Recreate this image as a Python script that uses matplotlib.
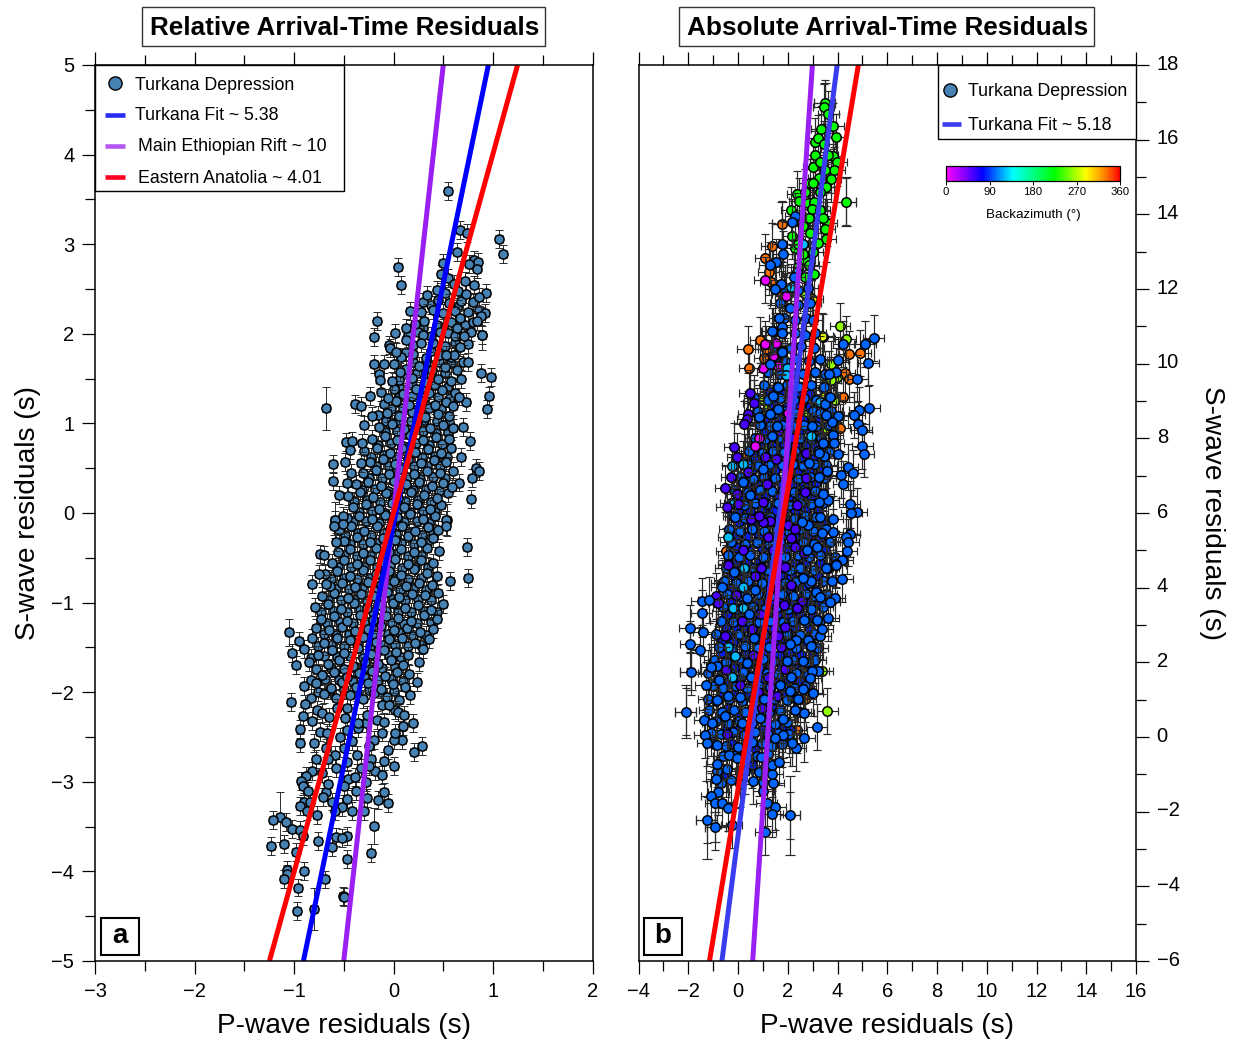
import numpy as np
import matplotlib
matplotlib.use('Agg')
import matplotlib.pyplot as plt
from matplotlib.colors import LinearSegmentedColormap, Normalize
from matplotlib.cm import ScalarMappable
from matplotlib.lines import Line2D
from matplotlib.patches import Rectangle
from matplotlib.ticker import MultipleLocator
from matplotlib.transforms import ScaledTranslation

plt.rcParams['font.family'] = ['Liberation Sans', 'DejaVu Sans']

# panel a, (P residual, S residual)
rel_top = [
    (0.545, 3.59), (0.67, 3.16), (0.735, 3.13), (1.06, 3.06), (1.10, 2.89), (0.045, 2.75), (0.08, 2.54),
    (0.64, 2.91), (0.81, 2.82), (0.85, 2.80), (0.50, 2.79), (0.76, 2.78), (0.835, 2.72), (0.48, 2.67),
    (0.55, 2.62), (0.72, 2.59), (0.61, 2.56), (0.81, 2.54), (0.44, 2.49), (0.65, 2.48), (0.93, 2.46),
    (0.73, 2.44), (0.86, 2.41), (0.34, 2.43), (-0.166, 2.14), (0.02, 2.01), (-0.195, 1.96), (0.126, 2.07),
    (0.166, 2.25), (0.13, 1.93), (0.88, 2.20), (0.84, 2.14), (0.885, 1.99), (0.67, 2.18), (0.635, 2.06),
    (0.71, 1.97), (0.30, 1.99), (0.47, 2.02), (0.28, 1.90), (0.67, 1.85), (-0.035, 1.84), (0.03, 1.80),
    (-0.195, 1.66), (-0.10, 1.66), (0.0, 1.66), (-0.15, 1.55), (0.065, 1.57), (-0.14, 1.48), (-0.02, 1.47),
    (0.695, 1.68), (0.75, 1.69), (0.61, 1.76), (0.53, 1.76), (0.875, 1.56), (0.98, 1.52), (0.96, 1.31),
    (0.94, 1.16), (-0.39, 1.22), (-0.33, 1.19), (-0.24, 1.31), (-0.06, 1.28), (0.725, 1.24),
    (0.66, 1.30), (0.595, 1.19), (-0.22, 1.08), (-0.30, 0.98), (0.695, 0.96), (0.77, 0.80), (-0.48, 0.79),
    (-0.42, 0.80), (-0.44, 0.70), (-0.32, 0.78), (-0.605, 0.55), (-0.49, 0.57), (-0.33, 0.56), (-0.43, 0.45),
    (-0.61, 0.36), (-0.47, 0.33), (-0.55, 0.20), (0.83, 0.50), (0.86, 0.47), (0.785, 0.39), (0.675, 0.62),
    (0.66, 0.34), (0.585, 0.29), (0.78, 0.16), (0.525, -0.08), (0.525, -0.14), (0.735, -0.38), (0.75, -0.73),
    (0.57, -0.76), (-0.59, -0.08), (-0.60, -0.14), (-0.505, -0.03), (-0.51, -0.12), (-0.58, -0.32),
    (-0.74, -0.46), (-0.70, -0.47), (-0.75, -0.68), (-0.82, -0.79), (-0.68, -0.79),
]
rel_bottom = [
    (-1.03, -2.11), (-0.94, -2.41), (-0.935, -2.57), (-0.80, -2.57), (-0.91, -2.27), (-0.82, -2.32),
    (-0.74, -2.44), (-0.89, -2.13), (-0.77, -2.20), (-0.72, -2.23), (-0.645, -2.28), (-0.665, -2.46),
    (-0.82, -2.88), (-0.88, -2.94), (-0.93, -2.99), (-0.91, -3.05), (-0.86, -3.10), (-0.675, -3.11),
    (-0.655, -3.03), (-0.71, -3.17), (-0.90, -3.22), (-0.94, -3.27), (-0.84, -3.22), (-0.87, -3.33),
    (-0.77, -3.37), (-1.21, -3.43), (-1.08, -3.45), (-1.02, -3.53), (-0.94, -3.54), (-0.91, -3.60),
    (-1.23, -3.72), (-1.10, -3.69), (-0.98, -3.78), (-0.76, -3.66), (-0.615, -3.73), (-0.58, -3.62),
    (-0.47, -3.60), (-0.52, -3.63), (-0.23, -3.79), (-0.465, -3.86), (-1.07, -3.98), (-1.07, -4.03),
    (-0.90, -4.0), (-1.10, -4.08), (-0.69, -4.09), (-0.96, -4.18), (-0.51, -4.27), (-0.50, -4.29),
    (-0.97, -4.44), (0.20, -2.34), (0.29, -2.60), (0.21, -2.67), (0.09, -2.53), (-0.06, -2.64),
    (0.005, -2.82), (-0.10, -2.77), (-0.19, -2.88), (0.01, -2.53), (0.015, -2.45), (-0.12, -2.45),
    (-0.20, -2.53), (-0.23, -2.75), (-0.10, -3.11), (-0.16, -3.20), (-0.06, -3.24), (-0.38, -3.10),
    (-0.27, -3.18), (-0.30, -3.33), (-0.42, -3.33), (-0.465, -3.19), (-0.52, -3.28), (-0.62, -3.22),
    (-0.59, -3.33), (-0.455, -2.97), (-0.39, -2.95), (-0.33, -2.85), (-0.58, -2.85), (-0.59, -2.70),
    (-0.37, -2.70), (-0.54, -2.50), (-0.36, -2.40), (-0.47, -2.42), (-0.28, -2.34), (-0.17, -2.31),
    (-0.36, -2.34), (-0.27, -2.25), (-0.485, -2.29), (-0.57, -2.18), (-0.465, -2.18), (-0.12, -2.14),
    (0.015, -2.20), (0.05, -2.22), (0.105, -2.25), (-0.05, -2.14),
    (-0.68, -2.62), (-0.5, -2.62), (-0.25, -2.6), (-0.42, -2.55), (-0.66, -2.75), (-0.47, -2.78), (-0.25, -2.82),
    (-0.12, -2.92), (-0.5, -3.05), (-0.28, -3.0), (-0.78, -2.75), (-0.72, -2.9), (-0.1, -2.33), (0.1, -2.38),
]
rel_core = [
    (-0.83, -2.06), (-0.7, -2.02), (-0.58, -2.07), (-0.44, -2.03), (-0.31, -2.08), (-0.2, -2.01), (-0.07, -2.05), (0.06, -2.09), (0.17, -2.03),
    (-0.9, -1.93), (-0.78, -1.9), (-0.63, -1.95), (-0.52, -1.89), (-0.38, -1.94), (-0.26, -1.9), (-0.13, -1.96), (-0.01, -1.91), (0.12, -1.94), (0.24, -1.89),
    (-0.72, -1.81), (-0.6, -1.77), (-0.47, -1.83), (-0.35, -1.79), (-0.22, -1.76), (-0.09, -1.82), (0.04, -1.78), (0.16, -1.8),
    (-0.98, -1.7), (-0.85, -1.66), (-0.66, -1.69), (-0.55, -1.64), (-0.41, -1.71), (-0.29, -1.66), (-0.16, -1.68), (-0.03, -1.64), (0.1, -1.7), (0.26, -1.66),
    (-1.02, -1.56), (-0.9, -1.52), (-0.76, -1.58), (-0.62, -1.53), (-0.5, -1.56), (-0.36, -1.51), (-0.23, -1.57), (-0.1, -1.53), (0.03, -1.55), (0.15, -1.59), (0.3, -1.52),
    (-0.95, -1.43), (-0.82, -1.4), (-0.7, -1.45), (-0.57, -1.39), (-0.44, -1.42), (-0.31, -1.38), (-0.18, -1.44), (-0.05, -1.41), (0.09, -1.39), (0.22, -1.45), (0.36, -1.41),
    (-0.78, -1.28), (-0.65, -1.31), (-0.52, -1.27), (-0.39, -1.32), (-0.26, -1.29), (-0.13, -1.26), (0.0, -1.31), (0.14, -1.28), (0.27, -1.33), (0.4, -1.29),
    (-0.73, -1.18), (-0.6, -1.15), (-0.47, -1.2), (-0.34, -1.14), (-0.21, -1.19), (-0.08, -1.15), (0.05, -1.17), (0.18, -1.21), (0.31, -1.14), (0.44, -1.18),
    (-0.79, -1.05), (-0.66, -1.02), (-0.53, -1.07), (-0.4, -1.01), (-0.27, -1.06), (-0.14, -1.03), (-0.01, -1.0), (0.12, -1.06), (0.25, -1.03), (0.38, -1.08), (0.5, -1.02),
    (-0.72, -0.93), (-0.6, -0.89), (-0.46, -0.95), (-0.33, -0.9), (-0.2, -0.93), (-0.07, -0.88), (0.06, -0.94), (0.19, -0.9), (0.32, -0.92), (0.45, -0.89),
    (-0.64, -0.81), (-0.52, -0.78), (-0.39, -0.83), (-0.26, -0.77), (-0.13, -0.8), (0.0, -0.76), (0.13, -0.82), (0.26, -0.78), (0.39, -0.8),
    (-0.69, -0.68), (-0.57, -0.65), (-0.44, -0.7), (-0.31, -0.64), (-0.18, -0.68), (-0.05, -0.65), (0.08, -0.69), (0.21, -0.63), (0.34, -0.67), (0.44, -0.7),
    (-0.62, -0.56), (-0.5, -0.52), (-0.37, -0.57), (-0.24, -0.53), (-0.11, -0.55), (0.02, -0.51), (0.15, -0.57), (0.28, -0.53), (0.4, -0.56),
    (-0.56, -0.43), (-0.44, -0.4), (-0.31, -0.45), (-0.18, -0.39), (-0.05, -0.43), (0.08, -0.4), (0.21, -0.44), (0.34, -0.39), (0.46, -0.42),
    (-0.5, -0.31), (-0.37, -0.27), (-0.24, -0.32), (-0.11, -0.28), (0.02, -0.3), (0.15, -0.26), (0.28, -0.32), (0.4, -0.28),
    (-0.55, -0.19), (-0.43, -0.15), (-0.3, -0.2), (-0.17, -0.14), (-0.04, -0.18), (0.09, -0.15), (0.22, -0.2), (0.35, -0.16), (0.45, -0.19),
    (-0.47, -0.06), (-0.35, -0.03), (-0.22, -0.07), (-0.09, -0.02), (0.04, -0.05), (0.17, -0.01), (0.3, -0.07), (0.42, -0.03),
    (-0.41, 0.07), (-0.28, 0.1), (-0.15, 0.05), (-0.02, 0.11), (0.11, 0.07), (0.24, 0.1), (0.37, 0.05), (0.48, 0.09),
    (-0.46, 0.19), (-0.34, 0.23), (-0.21, 0.18), (-0.08, 0.22), (0.05, 0.17), (0.18, 0.23), (0.31, 0.2), (0.44, 0.17), (0.55, 0.22),
    (-0.38, 0.32), (-0.26, 0.35), (-0.13, 0.3), (0.0, 0.36), (0.13, 0.32), (0.26, 0.35), (0.39, 0.3), (0.5, 0.34),
    (-0.31, 0.45), (-0.18, 0.48), (-0.05, 0.43), (0.08, 0.49), (0.21, 0.44), (0.34, 0.47), (0.47, 0.45), (0.6, 0.47),
    (-0.24, 0.57), (-0.11, 0.6), (0.02, 0.55), (0.15, 0.6), (0.28, 0.56), (0.41, 0.59), (0.53, 0.57),
    (-0.3, 0.69), (-0.17, 0.72), (-0.04, 0.67), (0.09, 0.73), (0.22, 0.68), (0.35, 0.71), (0.48, 0.67), (0.58, 0.72),
    (-0.22, 0.83), (-0.09, 0.86), (0.04, 0.81), (0.17, 0.87), (0.3, 0.82), (0.43, 0.85), (0.56, 0.83),
    (-0.15, 0.96), (-0.02, 0.99), (0.11, 0.94), (0.24, 1.0), (0.37, 0.95), (0.5, 0.98), (0.6, 0.95),
    (-0.16, 1.09), (-0.07, 1.12), (0.06, 1.08), (0.19, 1.13), (0.32, 1.07), (0.45, 1.11), (0.56, 1.08),
    (-0.1, 1.22), (0.03, 1.25), (0.16, 1.2), (0.29, 1.25), (0.42, 1.21), (0.53, 1.24),
    (-0.13, 1.35), (0.0, 1.38), (0.1, 1.33), (0.23, 1.38), (0.36, 1.34), (0.49, 1.37), (0.62, 1.34),
    (0.06, 1.48), (0.19, 1.51), (0.32, 1.46), (0.45, 1.5), (0.58, 1.47), (0.68, 1.5),
    (0.13, 1.61), (0.26, 1.64), (0.39, 1.6), (0.52, 1.63), (0.64, 1.6),
    (0.08, 1.74), (0.2, 1.77), (0.33, 1.73), (0.46, 1.76), (0.58, 1.74),
    (0.2, 1.87), (0.4, 1.9), (0.52, 1.86), (0.75, 1.89), (-0.05, 1.88),
    (0.15, 1.99), (0.25, 2.02), (0.38, 1.98), (0.55, 2.01), (0.62, 1.98), (0.78, 2.02),
    (0.22, 2.11), (0.31, 2.14), (0.44, 2.1), (0.58, 2.13), (0.72, 2.1), (0.8, 2.13),
    (0.28, 2.24), (0.4, 2.27), (0.5, 2.23), (0.62, 2.26), (0.75, 2.24), (0.86, 2.27), (0.92, 2.23),
    (0.3, 2.35), (0.45, 2.38), (0.56, 2.34), (0.68, 2.37), (0.8, 2.35),
]
rel_fill = [
    (-0.76, -2.0), (-0.64, -1.98), (-0.5, -1.97), (-0.37, -2.0), (-0.25, -1.98), (-0.13, -2.0), (0.0, -1.99),
    (-0.83, -1.86), (-0.69, -1.85), (-0.55, -1.86), (-0.41, -1.87), (-0.29, -1.84), (-0.16, -1.86), (-0.03, -1.85), (0.1, -1.87),
    (-0.78, -1.74), (-0.63, -1.73), (-0.5, -1.74), (-0.38, -1.72), (-0.25, -1.74), (-0.12, -1.73), (0.02, -1.72),
    (-0.83, -1.62), (-0.7, -1.6), (-0.57, -1.61), (-0.44, -1.6), (-0.31, -1.62), (-0.19, -1.6), (-0.05, -1.59), (0.08, -1.61),
    (-0.76, -1.48), (-0.63, -1.47), (-0.5, -1.48), (-0.37, -1.46), (-0.24, -1.48), (-0.11, -1.47), (0.02, -1.47), (0.15, -1.48), (0.28, -1.47),
    (-0.7, -1.35), (-0.58, -1.36), (-0.45, -1.35), (-0.32, -1.34), (-0.19, -1.36), (-0.06, -1.35), (0.07, -1.34), (0.2, -1.37), (0.33, -1.36),
    (-0.67, -1.23), (-0.54, -1.22), (-0.41, -1.23), (-0.28, -1.22), (-0.15, -1.22), (-0.02, -1.23), (0.11, -1.24), (0.24, -1.23), (0.38, -1.22),
    (-0.73, -1.11), (-0.6, -1.09), (-0.47, -1.1), (-0.34, -1.08), (-0.21, -1.11), (-0.08, -1.09), (0.05, -1.1), (0.18, -1.1), (0.31, -1.09), (0.44, -1.1),
    (-0.66, -0.97), (-0.53, -0.97), (-0.4, -0.96), (-0.27, -0.98), (-0.14, -0.96), (-0.01, -0.96), (0.12, -0.97), (0.25, -0.96), (0.38, -0.97),
    (-0.58, -0.85), (-0.45, -0.85), (-0.32, -0.84), (-0.19, -0.86), (-0.06, -0.84), (0.07, -0.86), (0.2, -0.84), (0.33, -0.86),
    (-0.63, -0.74), (-0.5, -0.73), (-0.37, -0.74), (-0.24, -0.73), (-0.11, -0.73), (0.02, -0.74), (0.15, -0.74), (0.28, -0.73),
    (-0.56, -0.6), (-0.43, -0.6), (-0.3, -0.6), (-0.17, -0.6), (-0.04, -0.59), (0.09, -0.61), (0.22, -0.6), (0.35, -0.6),
    (-0.5, -0.47), (-0.37, -0.48), (-0.24, -0.47), (-0.11, -0.48), (0.02, -0.46), (0.15, -0.48), (0.28, -0.47),
    (-0.44, -0.35), (-0.31, -0.35), (-0.18, -0.34), (-0.05, -0.35), (0.08, -0.34), (0.21, -0.35), (0.34, -0.34),
    (-0.49, -0.24), (-0.36, -0.22), (-0.23, -0.24), (-0.1, -0.22), (0.03, -0.23), (0.16, -0.22), (0.29, -0.24), (0.4, -0.22),
    (-0.41, -0.1), (-0.28, -0.09), (-0.15, -0.11), (-0.02, -0.09), (0.11, -0.1), (0.24, -0.09), (0.36, -0.11),
    (-0.35, 0.01), (-0.22, 0.02), (-0.09, 0.0), (0.04, 0.02), (0.17, 0.01), (0.3, 0.02), (0.42, 0.01),
    (-0.4, 0.13), (-0.27, 0.14), (-0.14, 0.12), (-0.01, 0.14), (0.12, 0.13), (0.25, 0.15), (0.38, 0.12),
    (-0.32, 0.26), (-0.19, 0.27), (-0.06, 0.25), (0.07, 0.27), (0.2, 0.26), (0.33, 0.27), (0.46, 0.25),
    (-0.25, 0.39), (-0.12, 0.39), (0.01, 0.38), (0.14, 0.4), (0.27, 0.38), (0.4, 0.4), (0.52, 0.39),
    (-0.18, 0.52), (-0.05, 0.53), (0.08, 0.51), (0.21, 0.53), (0.34, 0.52), (0.47, 0.52),
    (-0.23, 0.63), (-0.1, 0.65), (0.03, 0.62), (0.16, 0.65), (0.29, 0.63), (0.42, 0.64), (0.54, 0.63),
    (-0.16, 0.76), (-0.03, 0.78), (0.1, 0.75), (0.23, 0.78), (0.36, 0.76), (0.49, 0.77),
    (-0.09, 0.9), (0.04, 0.91), (0.17, 0.89), (0.3, 0.92), (0.43, 0.89), (0.55, 0.9),
    (-0.08, 1.03), (0.05, 1.04), (0.18, 1.03), (0.31, 1.04), (0.44, 1.03), (0.56, 1.02),
    (-0.03, 1.16), (0.1, 1.17), (0.23, 1.15), (0.36, 1.17), (0.48, 1.16),
    (0.06, 1.29), (0.19, 1.31), (0.32, 1.29), (0.45, 1.3), (0.57, 1.28),
    (0.06, 1.42), (0.19, 1.43), (0.3, 1.41), (0.42, 1.43), (0.55, 1.41),
    (0.1, 1.55), (0.24, 1.56), (0.38, 1.55), (0.52, 1.56), (0.2, 1.69), (0.33, 1.68), (0.46, 1.69), (0.58, 1.67),
    (0.13, 1.8), (0.38, 1.81), (0.62, 1.9), (0.3, 2.07), (0.5, 2.06), (0.65, 2.3), (0.38, 2.32), (0.52, 2.45),
]
# points with long S error bars: P, S, S error
rel_long_p = [-0.68, -1.14, -0.20, -0.80, 0.54, -0.59, 0.885, -1.05]
rel_long_s = [1.17, -3.39, -3.49, -4.42, -0.08, -0.08, 1.99, -1.33]
rel_long_e = [0.24, 0.28, 0.2, 0.23, 0.18, 0.2, 0.17, 0.15]
rel_perr = 0.04
rel_serr = 0.1

# slope, intercept of the fit lines
rel_fits = [(10.0, 0.0, '#9a1ff2'), (5.38, -0.13, '#0000ff'), (4.01, 0.0, '#ff0000')]
abs_fits = [(5.18, -2.65, '#3a3cf0'), (10.0, -11.9, '#9a1ff2'), (4.01, -1.4, '#ff0000')]

# panel b, one list per backazimuth colour
abs_green = [
    (3.48, 16.97), (3.45, 16.87), (3.63, 16.68), (3.34, 16.29), (3.83, 16.37), (3.93, 16.08), (3.10, 15.95),
    (3.22, 16.04), (3.46, 15.88), (3.83, 15.56), (3.98, 15.39), (3.02, 15.28), (3.87, 15.19), (3.25, 14.96),
    (3.72, 14.95), (2.88, 14.85), (3.55, 14.72), (4.33, 14.34), (2.38, 14.54), (2.81, 14.31), (3.07, 14.34),
    (2.46, 14.35), (2.97, 14.13), (2.15, 14.12), (3.29, 14.12), (2.87, 13.91), (3.57, 13.78), (3.49, 13.61),
    (2.17, 13.42), (3.52, 13.33), (3.22, 13.24), (2.30, 13.09), (2.69, 12.79), (2.84, 12.64), (2.69, 12.33),
    (3.1, 15.6), (3.5, 15.2), (3.3, 14.6), (2.7, 14.6), (3.0, 14.85), (3.4, 13.9), (2.6, 13.7), (2.9, 13.5),
    (2.4, 13.2), (2.6, 12.95), (3.0, 13.0), (2.4, 12.6), (3.05, 12.4), (3.3, 15.4), (3.6, 15.6),
]
abs_lime = [
    (2.64, 11.88), (4.10, 11.01), (4.33, 10.66), (3.74, 9.99), (3.99, 9.63), (3.73, 9.56), (1.02, 9.03), (1.19, 8.80),
    (1.11, 8.63), (3.90, 9.03), (2.83, 8.65), (3.54, 8.24), (1.15, 7.75), (0.68, 6.80), (2.49, 7.63), (3.16, 7.27),
    (3.58, 0.70), (3.39, 1.77),
]
abs_yellow = [(3.42, 10.72), (2.99, 11.73), (3.39, 10.74), (2.36, 7.87), (3.5, 7.0), (3.45, 9.1)]
abs_orange = [
    (1.77, 13.74), (1.36, 13.15), (1.10, 12.84), (1.24, 12.46), (1.31, 12.20), (1.77, 11.87), (0.90, 10.63),
    (0.39, 10.38), (1.12, 10.38), (4.47, 10.25), (4.92, 10.28), (0.46, 9.89), (1.05, 10.16), (4.30, 9.74),
    (4.48, 9.58), (4.24, 9.10), (3.41, 9.34), (2.96, 8.74), (3.12, 8.51), (4.10, 8.29), (3.30, 8.33), (3.16, 7.82),
    (0.55, 7.62), (0.28, 7.49), (0.42, 7.27), (-0.48, 4.97), (2.36, 0.18), (2.70, 1.01), (-0.66, 4.12),
]
abs_magenta = [
    (1.07, 12.24), (1.92, 11.82), (1.10, 10.52), (1.54, 10.56), (1.39, 10.21), (1.40, 10.21), (1.62, 9.95),
    (0.99, 9.88), (0.85, 8.02), (0.68, 7.79), (2.02, 8.69),
]
abs_sky = [
    (2.61, 13.20), (2.15, 12.06), (2.38, 12.46), (1.96, 9.88), (1.93, 9.70), (0.19, 7.31), (0.22, 4.52), (3.30, 8.98),
    (2.92, 8.05), (-0.24, 7.26), (-0.16, 6.26), (-0.39, 5.37), (-0.23, 1.60), (0.22, 3.45), (-0.19, 3.45), (0.22, 4.03),
    (0.24, 4.52), (-0.39, 2.42), (-0.12, 2.18),
]
abs_blue = [
    (2.30, 13.96), (2.18, 13.80), (1.77, 13.21), (1.82, 12.93), (1.54, 12.71), (1.28, 12.63), (2.26, 12.31),
    (1.73, 12.13), (1.50, 11.99), (2.08, 11.48), (1.65, 11.23), (1.77, 10.97), (1.39, 10.88), (1.77, 10.83),
    (5.46, 10.68), (5.12, 10.53), (4.24, 10.53), (1.77, 10.34), (5.24, 10.03), (4.80, 9.60), (4.0, 10.10),
    (3.93, 9.79), (3.67, 9.72), (5.28, 8.80), (4.87, 8.76), (4.68, 8.63), (4.84, 8.38), (4.97, 8.22), (5.0, 7.79),
    (5.05, 7.58), (4.41, 7.24), (4.63, 7.08), (4.14, 7.01), (4.22, 6.77), (3.50, 8.91), (3.70, 9.10), (4.0, 8.61),
    (3.79, 8.43), (3.53, 8.63), (2.96, 8.33), (3.81, 8.09), (3.86, 7.87), (3.41, 7.88), (4.0, 7.57), (3.47, 7.54),
    (3.26, 7.60), (2.86, 7.33), (3.59, 7.13), (3.26, 6.96), (4.5, 6.23), (4.77, 6.04), (4.55, 5.99), (4.50, 5.43),
    (4.34, 5.37), (4.44, 5.21), (4.37, 4.98), (4.2, 4.74), (3.93, 4.63), (3.57, 4.52), (3.81, 5.84), (3.63, 6.35),
    (3.43, 6.51), (3.26, 6.30), (3.30, 5.90), (2.83, 5.68), (2.56, 5.77), (3.81, 5.48), (3.36, 5.46), (3.16, 5.10),
    (2.76, 5.01), (1.36, 10.88), (1.76, 10.83), (1.76, 10.32), (1.29, 9.99), (1.42, 9.13), (0.85, 8.56), (1.29, 8.64),
    (1.36, 8.07), (1.62, 9.38), (1.60, 8.78), (1.58, 8.33), (0.99, 7.18), (0.22, 6.84), (0.48, 6.48), (-0.12, 5.90),
    (-2.10, 0.68), (-1.90, 1.75), (-1.93, 2.48), (-1.94, 2.91), (-1.39, 2.80), (-1.51, 2.32), (-1.46, 3.31),
    (-1.45, 3.63), (-1.17, 3.67), (-0.66, 4.01), (-1.30, 1.38), (-1.35, 0.45), (-1.04, 0.37), (-1.33, 0.05),
    (-1.23, -0.17), (-0.86, -0.22), (-0.86, -0.72), (-0.88, -1.13), (-0.79, -1.48), (-1.07, -1.59), (-0.92, -1.76),
    (-0.63, -1.76), (-0.39, -1.89), (-1.25, -2.22), (-0.92, -2.41), (-0.25, -2.36), (1.09, -2.55), (2.09, -2.10),
    (1.49, -1.88), (1.38, -2.06), (1.15, -1.76), (1.02, -1.44), (1.42, -1.22), (1.38, -0.98), (1.38, -0.76),
    (1.66, -0.67), (2.32, -0.30), (2.67, -0.04), (2.16, -0.17), (3.16, 0.26), (2.64, 0.63), (1.82, 0.05), (1.82, 0.47),
    (2.29, 0.72), (1.49, -0.02), (3.0, 1.19), (2.43, 1.01), (2.63, 1.28), (2.13, 1.60), (1.69, 1.39), (2.09, 1.24),
    (1.96, 2.03), (2.60, 2.04), (3.23, 1.78), (2.99, 1.77), (2.90, 1.57), (2.32, 2.61), (2.80, 2.60), (2.09, 2.49),
    (2.92, 2.44), (3.30, 2.70), (3.39, 2.89), (3.16, 3.13), (3.63, 3.19), (3.90, 3.73), (3.70, 3.62), (3.12, 3.89),
    (3.30, 3.76), (2.94, 4.19), (3.77, 4.19), (4.20, 4.24), (3.93, 4.62), (3.53, 4.52), (2.63, 4.25), (2.67, 3.13),
    (0.35, 1.97), (0.64, 2.66), (-0.75, 1.54), (-0.83, 1.91), (-1.07, 1.88), (-0.40, 1.10), (0.08, 1.08), (-0.83, 0.99),
    (-0.52, 0.56), (0.15, 0.37), (0.01, -0.26), (-0.36, -0.48), (-0.05, -0.57), (0.55, -0.13), (0.93, -0.53),
    (0.89, 0.50), (1.06, 1.03), (0.52, 1.61), (0.35, 3.71), (0.44, 3.29), (0.68, 3.95), (-0.16, 4.41),
]
abs_core = [
    (-0.7, -1.22), (-0.3, -1.15), (0.1, -1.25), (0.6, -1.18), (1.0, -1.2),
    (-0.85, -0.92), (-0.45, -0.85), (0.3, -0.9), (0.85, -0.95),
    (-0.6, -0.52), (-0.1, -0.47), (0.35, -0.55), (0.75, -0.5), (1.2, -0.45),
    (-0.95, -0.18), (-0.5, -0.24), (0.45, -0.2), (0.95, -0.15), (1.35, -0.23), (1.75, -0.18),
    (-1.1, 0.12), (-0.7, 0.08), (-0.2, 0.14), (0.25, 0.06), (0.7, 0.13), (1.2, 0.07), (1.6, 0.12), (2.05, 0.08),
    (-0.9, 0.42), (-0.4, 0.37), (0.05, 0.44), (0.55, 0.38), (1.05, 0.43), (1.5, 0.36), (1.95, 0.41),
    (-1.15, 0.72), (-0.65, 0.68), (-0.15, 0.73), (0.3, 0.67), (0.8, 0.72), (1.25, 0.66), (1.7, 0.71), (2.5, 0.68),
    (-1.2, 1.02), (-0.9, 0.97), (-0.35, 1.03), (0.15, 0.97), (0.6, 1.02), (1.1, 0.96), (1.5, 1.02), (1.95, 0.98), (2.35, 1.03),
    (-1.0, 1.36), (-0.6, 1.32), (-0.1, 1.37), (0.35, 1.31), (0.85, 1.36), (1.3, 1.33), (1.8, 1.37), (2.25, 1.32), (2.7, 1.36),
    (-1.2, 1.72), (-0.3, 1.68), (0.2, 1.73), (0.7, 1.67), (1.15, 1.72), (1.6, 1.68), (2.35, 1.72), (2.8, 1.67),
    (-0.95, 2.06), (-0.5, 2.02), (0.05, 2.07), (0.5, 2.02), (1.0, 2.08), (1.45, 2.03), (2.2, 2.07), (2.75, 2.02), (3.1, 2.06),
    (-0.75, 2.42), (-0.25, 2.37), (0.3, 2.43), (0.8, 2.38), (1.25, 2.42), (2.35, 2.38), (3.0, 2.43), (3.2, 2.38),
    (-0.9, 2.76), (-0.45, 2.72), (0.05, 2.77), (0.55, 2.72), (1.05, 2.77), (1.5, 2.73), (1.95, 2.77), (2.5, 2.72), (3.05, 2.77),
    (-0.7, 3.12), (-0.2, 3.07), (0.4, 3.12), (0.85, 3.07), (1.3, 3.12), (1.8, 3.08), (2.2, 3.12), (2.75, 3.07), (3.3, 3.12),
    (-0.6, 3.47), (-0.05, 3.42), (0.6, 3.47), (1.1, 3.43), (1.55, 3.47), (2.0, 3.42), (2.45, 3.47), (2.95, 3.43), (3.4, 3.47),
    (-0.45, 3.82), (0.1, 3.77), (0.8, 3.82), (1.3, 3.78), (1.75, 3.82), (2.2, 3.77), (2.75, 3.82), (3.05, 3.77), (3.55, 3.82),
    (-0.55, 4.17), (-0.1, 4.12), (0.4, 4.17), (0.95, 4.13), (1.45, 4.17), (1.9, 4.12), (2.35, 4.17), (2.85, 4.13), (3.4, 4.17),
    (-0.5, 4.52), (0.15, 4.47), (0.65, 4.52), (1.15, 4.48), (1.65, 4.52), (2.1, 4.47), (2.5, 4.52), (3.05, 4.48), (3.65, 4.52),
    (-0.4, 4.87), (0.05, 4.82), (0.5, 4.87), (1.0, 4.83), (1.45, 4.87), (1.9, 4.83), (2.4, 4.87), (2.85, 4.83), (3.3, 4.87), (3.9, 4.82),
    (-0.3, 5.22), (0.3, 5.17), (0.75, 5.22), (1.25, 5.18), (1.7, 5.22), (2.2, 5.17), (2.6, 5.22), (3.05, 5.18), (3.7, 5.22),
    (-0.35, 5.57), (0.1, 5.52), (0.55, 5.57), (1.05, 5.53), (1.55, 5.57), (2.0, 5.53), (2.5, 5.57), (3.0, 5.53), (3.55, 5.57),
    (-0.2, 5.92), (0.3, 5.87), (0.8, 5.92), (1.3, 5.88), (1.75, 5.92), (2.25, 5.87), (2.7, 5.92), (3.15, 5.88),
    (-0.3, 6.27), (0.25, 6.22), (0.7, 6.27), (1.15, 6.23), (1.6, 6.27), (2.05, 6.22), (2.5, 6.27), (2.95, 6.23), (3.4, 6.27),
    (-0.15, 6.62), (0.4, 6.57), (0.9, 6.62), (1.35, 6.58), (1.8, 6.62), (2.25, 6.57), (2.65, 6.62), (3.1, 6.58),
    (0.1, 6.97), (0.6, 6.92), (1.05, 6.97), (1.5, 6.93), (1.95, 6.97), (2.4, 6.92), (2.9, 6.97), (3.5, 6.93),
    (0.35, 7.32), (0.8, 7.27), (1.25, 7.32), (1.75, 7.28), (2.2, 7.32), (2.6, 7.27), (3.05, 7.32), (3.55, 7.28),
    (0.45, 7.67), (0.95, 7.62), (1.4, 7.67), (1.85, 7.63), (2.3, 7.67), (2.75, 7.62), (3.2, 7.67), (3.65, 7.63),
    (0.7, 8.02), (1.1, 7.97), (1.6, 8.02), (2.05, 7.98), (2.5, 8.02), (2.95, 7.97), (3.35, 8.02),
    (0.9, 8.37), (1.3, 8.32), (1.75, 8.37), (2.2, 8.33), (2.65, 8.37), (3.15, 8.32), (3.6, 8.37),
    (0.75, 8.72), (1.45, 8.67), (1.9, 8.72), (2.35, 8.68), (3.0, 8.72), (3.3, 8.67), (3.75, 8.72),
    (0.65, 9.07), (1.2, 9.02), (1.7, 9.07), (2.25, 9.03), (2.65, 9.07), (3.15, 9.02), (3.65, 9.07),
    (1.05, 9.42), (1.55, 9.37), (1.95, 9.42), (2.45, 9.38), (2.95, 9.42), (3.45, 9.37),
    (1.2, 9.77), (1.7, 9.72), (2.15, 9.77), (2.6, 9.73), (3.1, 9.77), (3.5, 9.72),
    (1.5, 10.12), (1.9, 10.07), (2.35, 10.12), (2.85, 10.08), (3.3, 10.12),
    (1.45, 10.47), (2.1, 10.42), (2.55, 10.47), (3.05, 10.43),
    (2.3, 10.82), (2.7, 10.78), (3.1, 10.82),
    (1.85, 11.22), (2.3, 11.18), (2.75, 11.22), (3.0, 11.18),
    (1.7, 11.62), (2.4, 11.58), (2.9, 11.62), (1.9, 12.02), (2.4, 11.98), (2.8, 12.02),
]
abs_dark = [
    (-0.5, -1.0), (0.1, -0.9), (0.55, -0.75), (1.05, -0.85), (-0.25, -0.2), (0.2, -0.3), (0.7, -0.3), (1.15, -0.2),
    (-0.45, 0.25), (0.0, 0.2), (0.45, 0.25), (0.95, 0.2), (1.4, 0.25), (1.75, 0.22),
    (-0.4, 0.75), (0.05, 0.55), (0.55, 0.75), (1.0, 0.6), (1.45, 0.75), (2.1, 0.2),
    (-0.65, 1.15), (-0.15, 1.15), (0.35, 1.15), (0.85, 1.15), (1.3, 1.15), (1.75, 1.15), (2.2, 1.15),
    (-0.8, 1.55), (-0.35, 1.5), (0.1, 1.55), (0.6, 1.5), (1.05, 1.55), (1.55, 1.5), (2.0, 1.55), (2.5, 1.5),
    (-0.65, 1.9), (-0.15, 1.85), (0.35, 1.9), (0.85, 1.85), (1.3, 1.9), (1.75, 1.85), (2.25, 1.9), (2.95, 1.85),
    (-0.7, 2.25), (-0.2, 2.2), (0.3, 2.25), (0.75, 2.2), (1.2, 2.25), (1.65, 2.2), (2.1, 2.25), (2.55, 2.2), (3.0, 2.2),
    (-0.65, 2.6), (-0.2, 2.55), (0.3, 2.6), (0.8, 2.55), (1.25, 2.6), (1.7, 2.55), (2.25, 2.6), (2.75, 2.55),
    (-0.5, 2.95), (-0.05, 2.9), (0.3, 2.95), (0.8, 2.9), (1.3, 2.95), (1.75, 2.9), (2.3, 2.95), (2.9, 2.9),
    (-0.45, 3.3), (0.05, 3.25), (0.6, 3.3), (1.05, 3.25), (1.55, 3.3), (2.0, 3.25), (2.5, 3.3), (3.0, 3.25),
    (-0.3, 3.65), (0.3, 3.6), (0.85, 3.65), (1.35, 3.6), (1.8, 3.65), (2.25, 3.6), (2.75, 3.65), (3.25, 3.6),
    (-0.25, 4.0), (0.25, 3.95), (0.7, 4.0), (1.2, 3.95), (1.65, 4.0), (2.1, 3.95), (2.6, 4.0), (3.15, 3.95),
    (-0.2, 4.35), (0.25, 4.3), (0.75, 4.35), (1.2, 4.3), (1.7, 4.35), (2.15, 4.3), (2.65, 4.35), (3.2, 4.3),
    (-0.1, 4.7), (0.35, 4.65), (0.85, 4.7), (1.35, 4.65), (1.8, 4.7), (2.3, 4.65), (2.75, 4.7), (3.3, 4.65),
    (-0.05, 5.05), (0.45, 5.0), (0.95, 5.05), (1.5, 5.0), (1.95, 5.05), (2.45, 5.0), (2.95, 5.05), (3.5, 5.0),
    (-0.05, 5.4), (0.35, 5.35), (0.85, 5.4), (1.35, 5.35), (1.8, 5.4), (2.3, 5.35), (2.8, 5.4), (3.3, 5.35),
    (0.05, 5.75), (0.55, 5.7), (1.05, 5.75), (1.55, 5.7), (2.0, 5.75), (2.45, 5.7), (2.95, 5.75), (3.4, 5.7),
    (0.05, 6.1), (0.5, 6.05), (0.95, 6.1), (1.4, 6.05), (1.85, 6.1), (2.3, 6.05), (2.75, 6.1), (3.2, 6.05),
    (0.15, 6.45), (0.65, 6.4), (1.1, 6.45), (1.6, 6.4), (2.05, 6.45), (2.5, 6.4), (2.95, 6.45),
    (0.35, 6.8), (0.85, 6.75), (1.3, 6.8), (1.75, 6.75), (2.2, 6.8), (2.65, 6.75), (3.15, 6.8),
    (0.55, 7.15), (1.05, 7.1), (1.5, 7.15), (2.0, 7.1), (2.4, 7.15), (2.85, 7.1), (3.35, 7.15),
    (0.7, 7.5), (1.15, 7.45), (1.65, 7.5), (2.1, 7.45), (2.55, 7.5), (3.0, 7.45),
    (0.9, 7.85), (1.35, 7.8), (1.85, 7.85), (2.3, 7.8), (2.75, 7.85), (3.15, 7.8),
    (1.1, 8.2), (1.55, 8.15), (2.0, 8.2), (2.45, 8.15), (2.9, 8.2),
    (1.2, 8.55), (1.65, 8.5), (2.1, 8.55), (2.6, 8.5), (3.25, 8.55),
    (1.45, 8.9), (1.95, 8.85), (2.5, 8.9), (2.9, 8.85), (1.3, 9.25), (1.85, 9.2), (2.4, 9.25), (2.9, 9.2),
]
abs_indigo = [
    (0.48, 9.21), (0.64, 8.94), (0.42, 8.64), (0.38, 8.51), (0.26, 8.38), (-0.16, 7.78), (-0.03, 7.51), (-0.28, 6.97),
    (-0.52, 6.66), (-0.05, 6.50), (-0.46, 6.15), (0.01, 6.23), (1.15, 6.78), (1.52, 7.45), (2.70, 6.55), (2.74, 7.60),
    (2.74, 6.95), (2.39, 6.21), (2.02, 5.68), (2.29, 5.56), (1.29, 5.79), (0.99, 5.75), (0.52, 5.83), (0.85, 5.92),
    (2.12, 5.32), (1.22, 5.37), (0.91, 4.56), (-0.39, 4.63), (1.89, 4.56), (2.67, 4.94), (1.89, 1.82), (1.73, 2.40),
    (2.56, 3.65), (2.12, 4.06), (1.85, 3.53), (2.39, 3.45), (1.89, 2.95), (-0.52, 2.70), (-0.45, 0.08), (0.95, 0.77),
    (1.56, 1.10), (0.91, 4.54), (-0.39, 4.62), (-0.88, 3.78), (-0.79, 3.58), (0.15, 3.12), (0.55, 2.9), (0.9, 3.3),
    (1.3, 4.0), (0.2, 5.0), (0.7, 4.3), (1.4, 5.0), (1.0, 6.3), (1.9, 6.5), (0.4, 7.1), (1.1, 7.5), (1.6, 8.2),
    (2.2, 8.0), (0.6, 2.2), (1.2, 1.6), (0.1, 1.4), (-0.5, 1.8), (1.6, 2.7), (-0.1, 3.8), (2.3, 5.1), (0.8, 1.2),
]
abs_perr = 0.42
abs_serr = 0.62
# points with long S error bars: P, S, S error
abs_long_p = [-1.25, -0.92, 2.09, -1.90, -2.10, 4.33, 3.48, 1.77]
abs_long_s = [-2.22, -2.41, -2.10, 1.75, 0.68, 14.34, 16.97, 13.74]
abs_long_e = [1.05, 0.4, 1.05, 0.5, 0.72, 0.65, 0.55, 0.6]

baz_green = 225
baz_lime = 262
baz_yellow = 285
baz_orange = 332
baz_magenta = 8
baz_sky = 122
baz_blue = 100
baz_dark = 82
baz_indigo = 55

rainbow = LinearSegmentedColormap.from_list('baz', [
    (0 / 360, '#ff00ff'), (40 / 360, '#7f00ff'), (75 / 360, '#0000ff'), (138 / 360, '#00ffff'),
    (225 / 360, '#00ff00'), (290 / 360, '#ffff00'), (330 / 360, '#ff7f00'), (360 / 360, '#ff0000')])
baz_norm = Normalize(0, 360)


def fx(x):
    return x / 1233


def fy(y):
    return 1 - y / 1040


def fig_box(x0, y0, x1, y1, lw=1.0, color='black', zorder=5):
    fig.add_artist(Rectangle((fx(x0), fy(y1)), fx(x1) - fx(x0), fy(y0) - fy(y1), transform=fig.transFigure,
                             facecolor='white', edgecolor=color, linewidth=lw, zorder=zorder))


def fig_label(x, y, txt, size, weight='normal', ha='left'):
    fig.text(fx(x), fy(y), txt, fontsize=size, fontweight=weight, ha=ha, va='center', zorder=6)


def draw_points(ax, pts, color, perr, serr, size, order, lw=0.7):
    pts = np.array(pts)
    ax.errorbar(pts[:, 0], pts[:, 1], xerr=perr, yerr=serr, fmt='none', ecolor='#2a2a2a', elinewidth=lw,
                capsize=3.2, capthick=lw, zorder=order)
    ax.plot(pts[:, 0], pts[:, 1], 'o', color=color, mec='black', mew=1.1, ms=size, zorder=order + 0.1, ls='none')


def draw_fits(ax, fits, s_lim):
    for i, (slope, icpt, color) in enumerate(fits):
        s_val = np.array(s_lim)
        ax.plot((s_val - icpt) / slope, s_val, color=color, lw=3.6, zorder=20 + i, solid_capstyle='butt')


def setup_axes(ax, x_lim, y_lim, x_major, x_minor, y_major, y_minor):
    ax.set_xlim(x_lim)
    ax.set_ylim(y_lim)
    ax.xaxis.set_major_locator(MultipleLocator(x_major))
    ax.xaxis.set_minor_locator(MultipleLocator(x_minor))
    ax.yaxis.set_major_locator(MultipleLocator(y_major))
    ax.yaxis.set_minor_locator(MultipleLocator(y_minor))
    ax.tick_params(which='major', direction='out', length=9.4, width=0.9, labelsize=14.5, pad=5.5, top=True)
    ax.tick_params(which='minor', direction='out', length=7, width=0.9, top=True)
    for sp in ax.spines.values():
        sp.set_linewidth(1.1)
        sp.set_zorder(30)


fig = plt.figure(figsize=(12.33, 10.4), dpi=100)
ax1 = fig.add_axes([fx(95), fy(961), fx(497.5), fy(65) - fy(961)])
ax2 = fig.add_axes([fx(638.5), fy(961), fx(497.5), fy(65) - fy(961)])

setup_axes(ax1, (-3, 2), (-5, 5), 1, 0.5, 1, 0.5)
setup_axes(ax2, (-4, 16), (-6, 18), 2, 1, 2, 1)
ax2.yaxis.tick_right()
ax2.tick_params(which='both', left=False, right=True, top=True)
for lab in ax2.get_yticklabels():
    lab.set_transform(lab.get_transform() + ScaledTranslation(0, 3 / 100, fig.dpi_scale_trans))

# panel a
point_blue = '#4682b4'
long_a = np.array([rel_long_p, rel_long_s, rel_long_e])
draw_points(ax1, rel_fill, point_blue, rel_perr, rel_serr, 6.6, 2)
ax1.errorbar(long_a[0], long_a[1], xerr=rel_perr, yerr=long_a[2], fmt='none', ecolor='#2a2a2a', elinewidth=0.7,
             capsize=3.2, capthick=0.7, zorder=2.5)
ax1.plot(long_a[0], long_a[1], 'o', color=point_blue, mec='black', mew=1.1, ms=6.6, zorder=2.6)
draw_points(ax1, rel_core, point_blue, rel_perr, rel_serr, 6.6, 3)
draw_points(ax1, rel_top, point_blue, rel_perr, rel_serr, 6.6, 4)
draw_points(ax1, rel_bottom, point_blue, rel_perr, rel_serr, 6.6, 4)
draw_fits(ax1, rel_fits, (-5, 5))

# panel b
long_b = np.array([abs_long_p, abs_long_s, abs_long_e])
ax2.errorbar(long_b[0], long_b[1], xerr=abs_perr, yerr=long_b[2], fmt='none', ecolor='#2a2a2a', elinewidth=0.85,
             capsize=3.6, capthick=0.85, zorder=2)
groups = [(abs_orange, baz_orange), (abs_lime, baz_lime), (abs_yellow, baz_yellow), (abs_green, baz_green),
          (abs_dark, baz_dark), (abs_core, baz_blue), (abs_magenta, baz_magenta), (abs_sky, baz_sky),
          (abs_indigo, baz_indigo), (abs_blue, baz_blue)]
for i, (pts, baz) in enumerate(groups):
    draw_points(ax2, pts, rainbow(baz_norm(baz)), abs_perr, abs_serr, 6.8, 3 + i, lw=0.85)
draw_fits(ax2, abs_fits, (-6, 18))

ax1.set_xlabel('P-wave residuals (s)', fontsize=20.2)
ax1.xaxis.set_label_coords(0.5, -0.058)
ax2.set_xlabel('P-wave residuals (s)', fontsize=20.2)
ax2.xaxis.set_label_coords(0.5, -0.058)
ax1.set_ylabel('S-wave residuals (s)', fontsize=20.2)
ax1.yaxis.set_label_coords(-0.108, 0.5)
ax2.yaxis.set_label_position('right')
ax2.set_ylabel('S-wave residuals (s)', fontsize=20.2, rotation=270, va='center')
ax2.yaxis.set_label_coords(1.153, 0.5)

# titles
fig_box(142, 7, 545, 46, color='#333333')
fig_label(344.5, 28, 'Relative Arrival-Time Residuals', 18.8, 'bold', 'center')
fig_box(679, 7, 1094, 46, color='#333333')
fig_label(887.5, 28, 'Absolute Arrival-Time Residuals', 18.8, 'bold', 'center')

# panel letters
fig_box(101, 918, 139, 955, lw=1.5)
fig_label(120, 936, 'a', 20, 'bold', 'center')
fig_box(644, 918, 682, 955, lw=1.5)
fig_label(663, 936, 'b', 20, 'bold', 'center')

# legend a
fig_box(95, 65, 344, 191)
fig.add_artist(Line2D([fx(114.5)], [fy(83)], marker='o', ms=9.5, color=point_blue, mec='black', mew=1.0, zorder=6))
fig_label(135, 85, 'Turkana Depression', 12.8)
legend_a = [(115, 'Turkana Fit ~ 5.38', '#2a2af5', 135), (146, 'Main Ethiopian Rift ~ 10', '#b455f0', 138.5),
            (177, 'Eastern Anatolia ~ 4.01', '#ff0022', 138)]
for y_pos, txt, color, x_txt in legend_a:
    fig.add_artist(Line2D([fx(105), fx(125)], [fy(y_pos), fy(y_pos)], color=color, lw=3.3, zorder=6,
                          solid_capstyle='butt'))
    fig_label(x_txt, y_pos + 1, txt, 12.8)

# legend b
fig_box(938, 65, 1136, 139)
fig.add_artist(Line2D([fx(950)], [fy(90)], marker='o', ms=9.5, color=point_blue, mec='black', mew=1.0, zorder=6))
fig_label(968, 92, 'Turkana Depression', 12.8)
fig.add_artist(Line2D([fx(942), fx(961)], [fy(124), fy(124)], color='#3a3cf0', lw=3.3, zorder=6,
                      solid_capstyle='butt'))
fig_label(968, 125, 'Turkana Fit ~ 5.18', 12.8)

# colour scale
cax = fig.add_axes([fx(946), fy(181), fx(174), fy(166) - fy(181)], zorder=10)
cbar = fig.colorbar(ScalarMappable(norm=baz_norm, cmap=rainbow), cax=cax, orientation='horizontal')
cbar.set_ticks([0, 90, 180, 270, 360])
cbar.ax.tick_params(labelsize=8.2, length=3, width=0.7, pad=1.5)
cbar.outline.set_linewidth(0.9)
fig_label(1033, 215, 'Backazimuth (°)', 9.6, ha='center')

fig.savefig('out.png', dpi=100)
